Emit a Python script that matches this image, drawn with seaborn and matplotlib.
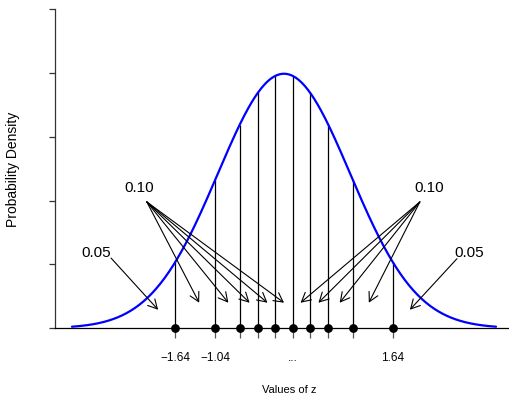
import numpy as np
import pandas as pd
import matplotlib
matplotlib.use("Agg")
import matplotlib.pyplot as plt
import seaborn as sns

# Data
z_cuts = [-1.64, -1.04, -0.67, -0.39, -0.13, 0.13, 0.39, 0.67, 1.04, 1.64]
tick_labels = ["\u22121.64", "\u22121.04", "", "", "", "...", "", "", "", "1.64"]
left10_targets = [-1.28, -0.84, -0.52, -0.25, 0.0]
right10_targets = [0.25, 0.52, 0.84, 1.28]
left05_target = [-1.9]
right05_target = [1.9]
z_range = [-3.2, 3.2]

sns.set_style("white")
plt.rcParams['font.family'] = ['Liberation Sans', 'DejaVu Sans']
plt.rcParams['text.color'] = 'black'
plt.rcParams['xtick.labelcolor'] = 'black'

def dnorm(x):
    x = np.asarray(x, dtype=float)
    return np.exp(-0.5 * x ** 2) / np.sqrt(2 * np.pi)

zs = np.linspace(z_range[0], z_range[1], 400)
curve = pd.DataFrame({"z": zs, "density": dnorm(zs)})
pts = pd.DataFrame({"z": z_cuts, "y": np.zeros(len(z_cuts))})

fig = plt.figure(figsize=(5.09, 3.97), dpi=100)
ax = fig.add_axes([55 / 509, 56 / 397, 458 / 509, 344.5 / 397])

sns.lineplot(data=curve, x="z", y="density", color="#0000FF", lw=1.6, ax=ax, zorder=3)

# vertical lines
ax.vlines(z_cuts, 0, dnorm(z_cuts), color="black", lw=0.9, zorder=2)

sns.scatterplot(data=pts, x="z", y="y", color="black", s=40, edgecolor="black",
                linewidth=0, ax=ax, zorder=4, clip_on=False)

ax.set_xlim(-3.456, 3.456)
ax.set_ylim(-0.02, 0.52)

for s in ["top", "right"]:
    ax.spines[s].set_visible(False)
ax.spines["left"].set_bounds(0, 0.5)
ax.spines["left"].set_color("#333333")
ax.spines["left"].set_linewidth(0.9)
ax.spines["bottom"].set_position(("data", 0))
ax.spines["bottom"].set_color("black")
ax.spines["bottom"].set_linewidth(0.9)

ax.set_yticks([0, 0.1, 0.2, 0.3, 0.4, 0.5])
ax.set_yticklabels([])
ax.tick_params(axis="y", direction="out", length=4.3, width=0.9, color="#333333", left=True)
ax.set_xticks(z_cuts)
ax.set_xticklabels(tick_labels, fontsize=8.5, color="black")
ax.tick_params(axis="x", direction="out", length=7, width=0.9, color="#555555", pad=10, bottom=True)
ax.set_xlabel("")
ax.set_ylabel("")

fig.text(289 / 509, 1 - 390 / 397, "Values of z", ha="center", va="center", fontsize=8, color="black")
fig.text(13 / 509, 1 - 169 / 397, "Probability Density", ha="center", va="center",
         rotation=90, fontsize=10, color="black")

arrow_kw = dict(arrowstyle="->,head_length=0.65,head_width=0.35", lw=0.8, color="black",
                shrinkA=0, shrinkB=0, mutation_scale=10)

ax.text(-2.19, 0.220, "0.10", ha="center", va="center", fontsize=11, color="black")
ax.text(2.19, 0.220, "0.10", ha="center", va="center", fontsize=11, color="black")
ax.text(-2.84, 0.118, "0.05", ha="center", va="center", fontsize=11, color="black")
ax.text(2.79, 0.118, "0.05", ha="center", va="center", fontsize=11, color="black")

for t in left10_targets:
    ax.annotate("", xy=(t, 0.040), xytext=(-2.07, 0.198), arrowprops=arrow_kw)
for t in right10_targets:
    ax.annotate("", xy=(t, 0.040), xytext=(2.05, 0.198), arrowprops=arrow_kw)
for t in left05_target:
    ax.annotate("", xy=(t, 0.029), xytext=(-2.61, 0.110), arrowprops=arrow_kw)
for t in right05_target:
    ax.annotate("", xy=(t, 0.029), xytext=(2.61, 0.109), arrowprops=arrow_kw)

fig.savefig("out.png", dpi=100)
